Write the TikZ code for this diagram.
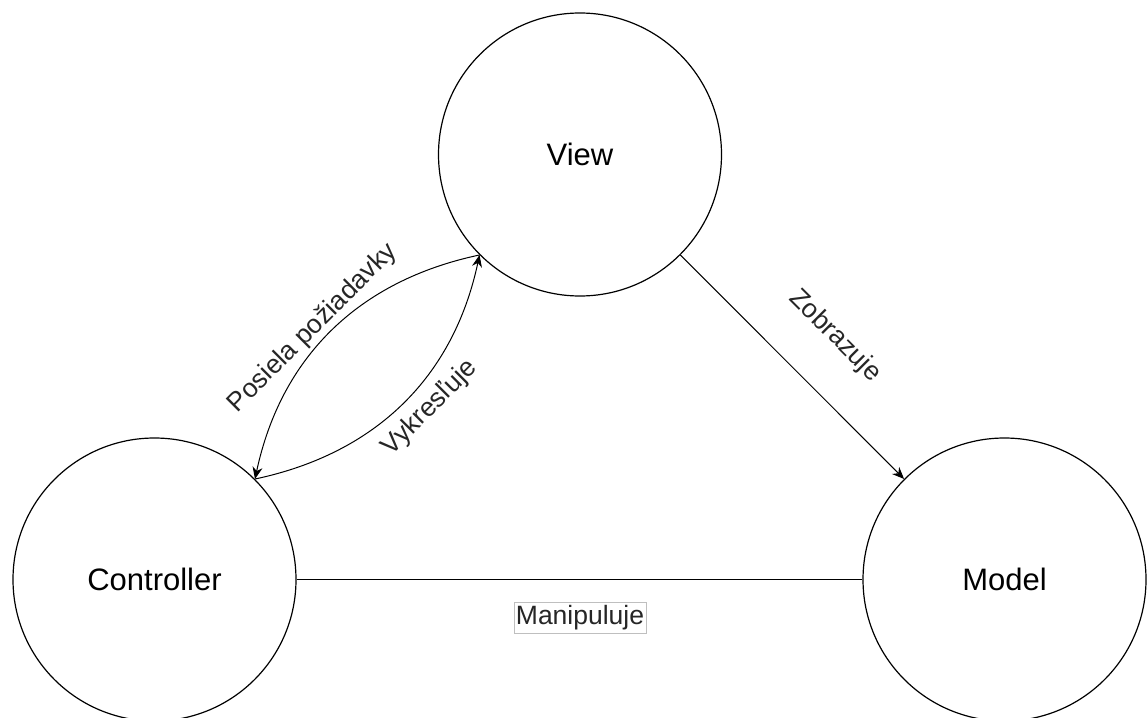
\documentclass[tikz,border=0pt]{standalone}
\usepackage{fontspec}
\setmainfont{Liberation Sans}
\usetikzlibrary{arrows.meta}
\begin{document}
\begin{tikzpicture}[x=1pt,y=-1pt,
  entity/.style={circle,draw,line width=1.2pt,minimum size=283pt,inner sep=0pt,
    font=\fontsize{31}{37}\selectfont},
  link/.style={line width=1pt,-{Stealth[length=12pt,width=10pt]}},
  plainlink/.style={line width=1pt},
  lbl/.style={font=\fontsize{26.5}{32}\selectfont,text=black!85,inner sep=0pt},
  boxlbl/.style={lbl,draw=black!25,fill=white,line width=0.8pt,inner xsep=2pt,inner ysep=3pt}]
\useasboundingbox (0,0) rectangle (1147,717);

% the three MVC parts
\node[entity] (view) at (580,154.5) {View};
\node[entity] (ctrl) at (154.5,579.5) {Controller};
\node[entity] (model) at (1004.5,579.5) {Model};

% connectors
\draw[link] (view.225) to[bend right=33] (ctrl.45);
\draw[link] (ctrl.45) to[bend right=33] (view.225);
\draw[link] (view) -- (model);
\draw[plainlink] (ctrl) -- (model);

% connector labels
\node[lbl,rotate=45] (lreq) at (313,328) {Posiela požiadavky};
\node[lbl,rotate=45] (ldraw) at (430,408) {Vykresľuje};
\node[lbl,rotate=-45] (lshow) at (835,336) {Zobrazuje};
\node[boxlbl] (lman) at (580,618) {Manipuluje};
\end{tikzpicture}
\end{document}
